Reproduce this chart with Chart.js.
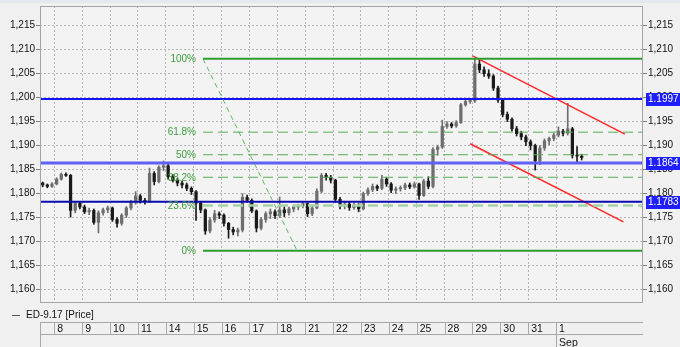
<!DOCTYPE html>
<html>
<head>
<meta charset="utf-8">
<script src="https://cdn.jsdelivr.net/npm/chart.js@4.4.0/dist/chart.umd.min.js"></script>
<style>
  html, body { margin: 0; padding: 0; background: #f0f0f0; }
  canvas { display: block; }
</style>
</head>
<body>
<canvas id="chart" width="680" height="347"></canvas>
<script>
/* global document, Chart */

// trading days shown under the plot (Aug 8 .. Sep 1)
let dayLabels = ['8', '9', '10', '11', '14', '15', '16', '17', '18', '21', '22', '23', '24', '25', '28', '29', '30', '31', '1'];
let monthLabel = 'Sep';
let monthIndex = 18;

let yTickValues = [1.160, 1.165, 1.170, 1.175, 1.180, 1.185, 1.190, 1.195, 1.200, 1.205, 1.210, 1.215];
let yTickLabels = ['1,160', '1,165', '1,170', '1,175', '1,180', '1,185', '1,190', '1,195', '1,200', '1,205', '1,210', '1,215'];

// ED-9.17 price bars (6 bars a day, first 3 are Aug 7)
let opens = [
    1.1822, 1.1818, 1.1815, 1.1820, 1.1830, 1.1840, 1.1838, 1.1765, 1.1780, 1.1772,
    1.1762, 1.1765, 1.1740, 1.1760, 1.1766, 1.1770, 1.1746, 1.1738, 1.1755, 1.1770,
    1.1782, 1.1795, 1.1786, 1.1783, 1.1842, 1.1825, 1.1855, 1.1858, 1.1835, 1.1828,
    1.1822, 1.1818, 1.1811, 1.1804, 1.1780, 1.1766, 1.1722, 1.1745, 1.1758, 1.1755,
    1.1738, 1.1725, 1.1720, 1.1724, 1.1792, 1.1786, 1.1764, 1.1728, 1.1746, 1.1758,
    1.1762, 1.1754, 1.1766, 1.1760, 1.1768, 1.1772, 1.1775, 1.1779, 1.1758, 1.1770,
    1.1805, 1.1838, 1.1834, 1.1828, 1.1788, 1.1774, 1.1778, 1.1771, 1.1776, 1.1768,
    1.1800, 1.1808, 1.1815, 1.1811, 1.1830, 1.1820, 1.1807, 1.1810, 1.1812, 1.1818,
    1.1814, 1.1820, 1.1796, 1.1826, 1.1815, 1.1892, 1.1897, 1.1940, 1.1945, 1.1941,
    1.1948, 1.1985, 1.1992, 1.1993, 1.2070, 1.2058, 1.2050, 1.2045, 1.2020, 1.1995,
    1.1965, 1.1955, 1.1935, 1.1925, 1.1918, 1.1908, 1.1900, 1.1868, 1.1895, 1.1910,
    1.1915, 1.1922, 1.1930, 1.1926, 1.1935, 1.1880, 1.1878
];
let highs = [
    1.1824, 1.1820, 1.1823, 1.1833, 1.1843, 1.1843, 1.1840, 1.1783, 1.1782, 1.1776,
    1.1770, 1.1768, 1.1764, 1.1770, 1.1774, 1.1772, 1.1750, 1.1758, 1.1773, 1.1786,
    1.1804, 1.1798, 1.1790, 1.1853, 1.1846, 1.1858, 1.1868, 1.1862, 1.1840, 1.1832,
    1.1826, 1.1822, 1.1814, 1.1806, 1.1784, 1.1768, 1.1750, 1.1765, 1.1762, 1.1758,
    1.1740, 1.1730, 1.1728, 1.1800, 1.1797, 1.1789, 1.1766, 1.1750, 1.1762, 1.1768,
    1.1766, 1.1793, 1.1772, 1.1772, 1.1776, 1.1778, 1.1782, 1.1781, 1.1774, 1.1810,
    1.1842, 1.1842, 1.1838, 1.1830, 1.1792, 1.1784, 1.1782, 1.1780, 1.1779, 1.1803,
    1.1812, 1.1820, 1.1818, 1.1838, 1.1834, 1.1823, 1.1814, 1.1816, 1.1822, 1.1822,
    1.1824, 1.1822, 1.1830, 1.1835, 1.1896, 1.1901, 1.1953, 1.1950, 1.1948, 1.1952,
    1.1988, 1.1996, 1.1998, 1.2082, 1.2081, 1.2064, 1.2058, 1.2048, 1.2024, 1.1998,
    1.1970, 1.1958, 1.1940, 1.1930, 1.1922, 1.1912, 1.1903, 1.1900, 1.1914, 1.1918,
    1.1926, 1.1939, 1.1934, 1.1988, 1.1938, 1.1898, 1.1882
];
let lows = [
    1.1814, 1.1812, 1.1813, 1.1818, 1.1828, 1.1836, 1.1751, 1.1760, 1.1768, 1.1758,
    1.1756, 1.1736, 1.1718, 1.1755, 1.1760, 1.1742, 1.1730, 1.1734, 1.1750, 1.1766,
    1.1778, 1.1780, 1.1778, 1.1781, 1.1818, 1.1822, 1.1848, 1.1830, 1.1824, 1.1816,
    1.1812, 1.1806, 1.1798, 1.1744, 1.1760, 1.1715, 1.1718, 1.1740, 1.1748, 1.1732,
    1.1707, 1.1714, 1.1712, 1.1720, 1.1782, 1.1760, 1.1720, 1.1724, 1.1740, 1.1748,
    1.1748, 1.1750, 1.1752, 1.1755, 1.1762, 1.1766, 1.1770, 1.1752, 1.1754, 1.1768,
    1.1802, 1.1828, 1.1822, 1.1782, 1.1768, 1.1768, 1.1765, 1.1767, 1.1762, 1.1766,
    1.1796, 1.1804, 1.1806, 1.1808, 1.1815, 1.1802, 1.1800, 1.1805, 1.1808, 1.1810,
    1.1811, 1.1788, 1.1794, 1.1810, 1.1812, 1.1880, 1.1894, 1.1936, 1.1937, 1.1938,
    1.1946, 1.1982, 1.1988, 1.1990, 1.2052, 1.2044, 1.2040, 1.2015, 1.1990, 1.1960,
    1.1950, 1.1930, 1.1920, 1.1912, 1.1900, 1.1891, 1.1849, 1.1860, 1.1890, 1.1902,
    1.1910, 1.1918, 1.1920, 1.1922, 1.1874, 1.1866, 1.1870
];
let closes = [
    1.1818, 1.1815, 1.1820, 1.1830, 1.1840, 1.1838, 1.1765, 1.1780, 1.1772, 1.1762,
    1.1765, 1.1740, 1.1760, 1.1766, 1.1770, 1.1746, 1.1738, 1.1755, 1.1770, 1.1782,
    1.1795, 1.1786, 1.1783, 1.1842, 1.1825, 1.1855, 1.1858, 1.1835, 1.1828, 1.1822,
    1.1818, 1.1811, 1.1804, 1.1780, 1.1766, 1.1722, 1.1745, 1.1758, 1.1755, 1.1738,
    1.1725, 1.1720, 1.1724, 1.1792, 1.1786, 1.1764, 1.1728, 1.1746, 1.1758, 1.1762,
    1.1754, 1.1766, 1.1760, 1.1768, 1.1772, 1.1775, 1.1779, 1.1758, 1.1770, 1.1805,
    1.1838, 1.1834, 1.1828, 1.1788, 1.1774, 1.1778, 1.1771, 1.1776, 1.1768, 1.1800,
    1.1808, 1.1815, 1.1811, 1.1830, 1.1820, 1.1807, 1.1810, 1.1812, 1.1818, 1.1814,
    1.1820, 1.1796, 1.1826, 1.1815, 1.1892, 1.1897, 1.1940, 1.1945, 1.1941, 1.1948,
    1.1985, 1.1992, 1.1993, 1.2070, 1.2058, 1.2050, 1.2045, 1.2020, 1.1995, 1.1965,
    1.1955, 1.1935, 1.1925, 1.1918, 1.1908, 1.1900, 1.1868, 1.1895, 1.1910, 1.1915,
    1.1922, 1.1930, 1.1926, 1.1935, 1.1880, 1.1878, 1.1875
];

// fibonacci retracement drawn from bar 34.5 to the right edge
let fibStart = 34.5;
let fibPrices = [1.1681, 1.1775, 1.1834, 1.1881, 1.1928, 1.2081];
let fibLabels = ['0%', '23.6%', '38.2%', '50%', '61.8%', '100%'];
let fibDiagonal = [[34.5, 1.2081], [54.6, 1.1684]];

// horizontal levels with their value tags on the right axis
let levelPrices = [1.1997, 1.1864, 1.1783];
let levelLabels = ['1.1997', '1.1864', '1.1783'];

// falling channel
let upperChannel = [[92.5, 1.2087], [125.3, 1.1924]];
let lowerChannel = [[92.0, 1.1904], [125.0, 1.1741]];

let seriesName = 'ED-9.17 [Price]';

let xMin = -0.58;
let xMax = 129.2;
let yMin = 1.1574;
let yMax = 1.2191;

let font = "'Liberation Sans', Arial, sans-serif";
Chart.defaults.font.family = font;
Chart.defaults.font.size = 10;
Chart.defaults.color = '#111';

let dayTicks = dayLabels.map((_, d) => 2.5 + 6 * d);

let upColor = '#6e6e6e';
let downColor = '#1a1a1a';
let barColors = closes.map((c, i) => c >= opens[i] ? upColor : downColor);

function hline(price, from, to) {
    return [{ x: from, y: price }, { x: to, y: price }];
}

function seg(points) {
    return points.map(p => ({ x: p[0], y: p[1] }));
}

function lineSet(data, color, width, dash) {
    return {
        type: 'line',
        data: data,
        borderColor: color,
        borderWidth: width,
        borderDash: dash || [],
        pointRadius: 0,
        fill: false,
        order: 0
    };
}

let datasets = [
    {
        type: 'bar',
        data: lows.map((l, i) => ({ x: i, y: [l, highs[i]] })),
        backgroundColor: barColors,
        barThickness: 1,
        grouped: false,
        order: 1
    },
    {
        type: 'bar',
        data: opens.map((o, i) => ({ x: i, y: [o, closes[i]] })),
        backgroundColor: barColors,
        barThickness: 2.6,
        minBarLength: 1,
        grouped: false,
        order: 1
    },
    lineSet(seg(fibDiagonal), '#5fb85f', 1, [5, 4])
];

// fib levels: 0% and 100% solid, the rest dashed
for (let i = 0; i < fibPrices.length; i++) {
    let d = hline(fibPrices[i], fibStart, xMax);
    if (i == 0 || i == fibPrices.length - 1) {
        datasets.push(lineSet(d, '#2e9c2e', 2));
    } else if (i == 1) {
        datasets.push(lineSet(d, '#a6d4a6', 2.5, [10, 5]));
    } else {
        datasets.push(lineSet(d, '#56ae56', 1, [10, 5]));
    }
}

let levelColors = ['#1212ff', '#6060f4', '#0a0ab0'];
let levelWidths = [2, 3, 2];
for (let i = 0; i < levelPrices.length; i++) {
    datasets.push(lineSet(hline(levelPrices[i], xMin, xMax), levelColors[i], levelWidths[i]));
}

datasets.push(lineSet(seg(upperChannel), '#ff2a2a', 1.6));
datasets.push(lineSet(seg(lowerChannel), '#ff2a2a', 1.6));

let decor = {
    id: 'decor',
    beforeDraw(chart) {
        let ctx = chart.ctx;
        let a = chart.chartArea;
        ctx.save();
        ctx.fillStyle = '#e4e9ef';
        ctx.fillRect(0, 0, chart.width, 3);
        ctx.fillStyle = '#f3f3f3';
        ctx.fillRect(a.left, a.top, a.right - a.left, a.bottom - a.top);
        ctx.restore();
    },
    afterDraw(chart) {
        let ctx = chart.ctx;
        let a = chart.chartArea;
        let x = chart.scales.x;
        let y = chart.scales.y;
        ctx.save();

        // plot frame
        ctx.strokeStyle = '#a4a4a4';
        ctx.lineWidth = 1;
        ctx.strokeRect(a.left + 0.5, a.top + 0.5, a.right - a.left - 1, a.bottom - a.top);

        // fib labels
        ctx.font = '10px ' + font;
        ctx.textAlign = 'right';
        ctx.textBaseline = 'middle';
        ctx.fillStyle = '#3c9c3c';
        let lx = x.getPixelForValue(fibStart) - 7;
        for (let i = 0; i < fibPrices.length; i++) {
            ctx.fillText(fibLabels[i], lx, y.getPixelForValue(fibPrices[i]) + 0.5);
        }

        // value tags on the right axis
        ctx.textAlign = 'left';
        for (let i = 0; i < levelPrices.length; i++) {
            let py = Math.round(y.getPixelForValue(levelPrices[i]));
            ctx.fillStyle = '#1e1eff';
            ctx.fillRect(a.right + 3, py - 6, chart.width - a.right - 3, 13);
            ctx.fillStyle = '#ffffff';
            ctx.fillText(levelLabels[i], a.right + 5, py + 0.5);
        }

        // date strip
        let top = 322.5, mid = 334.5;
        ctx.strokeStyle = '#a8a8a8';
        ctx.beginPath();
        ctx.moveTo(a.left, top); ctx.lineTo(a.right, top);
        ctx.moveTo(a.left, mid); ctx.lineTo(a.right, mid);
        ctx.moveTo(a.left + 0.5, top); ctx.lineTo(a.left + 0.5, chart.height);
        for (let d = 0; d < dayTicks.length; d++) {
            let px = Math.round(x.getPixelForValue(dayTicks[d])) + 0.5;
            ctx.moveTo(px, top);
            ctx.lineTo(px, d == monthIndex ? chart.height : mid);
        }
        ctx.stroke();

        // legend
        ctx.strokeStyle = '#555';
        ctx.beginPath();
        ctx.moveTo(12, 315.5); ctx.lineTo(20, 315.5);
        ctx.stroke();
        ctx.fillStyle = '#111';
        ctx.fillText(seriesName, 26, 315.5);

        ctx.restore();
    }
};

let yAxisBase = {
    min: yMin,
    max: yMax,
    border: { display: false, dash: [2, 2] },
    afterBuildTicks: scale => { scale.ticks = yTickValues.map(v => ({ value: v })); },
    ticks: {
        padding: 1,
        font: { size: 10, lineHeight: 1.2 },
        callback: (value, index) => yTickLabels[index]
    }
};

new Chart(document.getElementById('chart'), {
    type: 'bar',
    data: { datasets: datasets },
    options: {
        responsive: false,
        animation: false,
        events: [],
        layout: { padding: { top: 6, left: 0, right: 0, bottom: 0 } },
        plugins: { legend: { display: false }, tooltip: { enabled: false } },
        scales: {
            x: {
                type: 'linear',
                min: xMin,
                max: xMax,
                offset: false,
                grid: { offset: false, color: '#b4b4b4', drawTicks: false },
                border: { display: false, dash: [2, 2] },
                afterBuildTicks: scale => { scale.ticks = dayTicks.map(v => ({ value: v })); },
                afterFit: scale => { scale.height = 45; scale.paddingLeft = 0; scale.paddingRight = 0; },
                ticks: {
                    autoSkip: false,
                    maxRotation: 0,
                    align: 'start',
                    labelOffset: 3,
                    padding: 20,
                    font: { size: 10.5, lineHeight: 1.35 },
                    callback: (value, index) => index == monthIndex ? [dayLabels[index], monthLabel] : dayLabels[index]
                }
            },
            y: Object.assign({}, yAxisBase, {
                position: 'left',
                grid: { color: '#b4b4b4', tickLength: 4, tickColor: '#808080' },
                afterFit: scale => { scale.width = 40; scale.paddingTop = 0; scale.paddingBottom = 0; }
            }),
            y2: Object.assign({}, yAxisBase, {
                position: 'right',
                grid: { drawOnChartArea: false, tickLength: 4, tickColor: '#808080' },
                afterFit: scale => { scale.width = 37; scale.paddingTop = 0; scale.paddingBottom = 0; }
            })
        }
    },
    plugins: [decor]
});
</script>
</body>
</html>
